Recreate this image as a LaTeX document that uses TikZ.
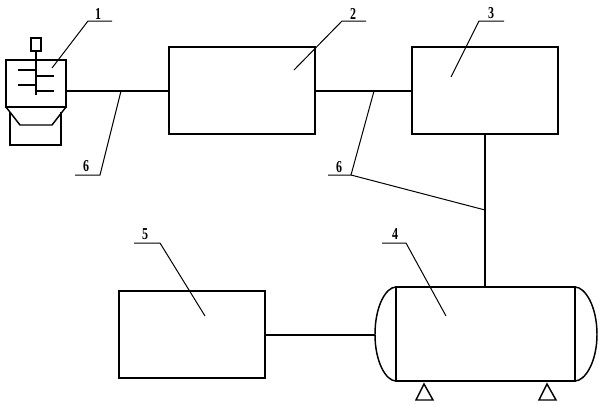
\documentclass[tikz,border=0pt]{standalone}
\usepackage{graphicx}
\usepackage{fontspec}
\setmainfont{Liberation Serif}
\tikzset{
  thick line/.style={line width=1.5pt,line join=miter},
  box/.style={draw,line width=1.5pt,inner sep=0pt,outer sep=0pt,anchor=north west},
  thin part/.style={line width=1.1pt},
  leader/.style={line width=0.75pt},
  num/.style={inner sep=0pt,font=\fontsize{12.5}{12.5}\selectfont\bfseries},
}
\newcommand{\nm}[1]{\scalebox{0.72}[1]{#1}}
\begin{document}
\begin{tikzpicture}[x=0.75pt,y=-0.75pt]
\useasboundingbox[fill=white] (0,0) rectangle (600,404);
% main boxes
\node[box,minimum width=109.5pt,minimum height=65.25pt] (b2) at (169,47) {};
\node[box,minimum width=109.5pt,minimum height=65.25pt] (b3) at (412,47) {};
\node[box,minimum width=109.5pt,minimum height=65.25pt] (b5) at (119,291) {};
\node[box,minimum width=134.25pt,minimum height=70.5pt] (tank) at (396,287) {};
\node[box,minimum width=45pt,minimum height=35.25pt] (mix) at (6,60) {};
\node[box,minimum width=7.5pt,minimum height=9.5pt] (knob) at (31,38) {};
% tank heads
\coordinate (hl) at (375,334.5);
\coordinate (hr) at (597,334.5);
\draw[thin part] (tank.north west) .. controls (386,287) and (375,306) .. (hl) .. controls (375,362) and (386,381) .. (tank.south west);
\draw[thin part] (tank.north east) .. controls (585,287) and (597,306) .. (hr) .. controls (597,362) and (585,381) .. (tank.south east);
% supports
\coordinate (s1) at (424,384); \coordinate (s1a) at (416,400); \coordinate (s1b) at (433,400);
\coordinate (s2) at (547,384); \coordinate (s2a) at (539,400); \coordinate (s2b) at (556,400);
\draw[thin part] (s1) -- (s1b) -- (s1a) -- cycle;
\draw[thin part] (s2) -- (s2b) -- (s2a) -- cycle;
% mixer internals
\coordinate (sh) at (36,95);
\draw[thin part] (knob.south) -- (sh);
\coordinate (p1) at (18,70); \coordinate (p1e) at (36,70);
\coordinate (p2) at (18,85); \coordinate (p2e) at (36,85);
\coordinate (p3) at (36,76); \coordinate (p3e) at (54,76);
\coordinate (p4) at (36,91); \coordinate (p4e) at (54,91);
\draw[thin part] (p1) -- (p1e) (p2) -- (p2e) (p3) -- (p3e) (p4) -- (p4e);
% hopper and bin
\coordinate (h1) at (20,125); \coordinate (h2) at (52,125);
\draw[thin part] (mix.south west) -- (h1) -- (h2) -- (mix.south east);
\coordinate (c1) at (10,112); \coordinate (c2) at (10,145); \coordinate (c3) at (61,145); \coordinate (c4) at (61,112);
\draw[thin part] (c1) -- (c2) -- (c3) -- (c4);
% pipes
\coordinate (m1) at (66,90.7); \coordinate (b2l) at (169,90.7);
\draw[thick line] (m1) -- (b2l);
\draw[thick line] (b2.east) -- (b3.west);
\draw[thick line] (b3.south) -- (b3.south |- tank.north);
\draw[thick line] (b5.east) -- (hl);
% leaders
\coordinate (l1a) at (52,68); \coordinate (l1b) at (88,21); \coordinate (l1c) at (112,21);
\draw[leader] (l1a) -- (l1b) -- (l1c);
\coordinate (l2a) at (294,70); \coordinate (l2b) at (342,21); \coordinate (l2c) at (366,21);
\draw[leader] (l2a) -- (l2b) -- (l2c);
\coordinate (l3a) at (451,77); \coordinate (l3b) at (479,21); \coordinate (l3c) at (504,21);
\draw[leader] (l3a) -- (l3b) -- (l3c);
\coordinate (l4a) at (446,316); \coordinate (l4b) at (406,243); \coordinate (l4c) at (382,243);
\draw[leader] (l4a) -- (l4b) -- (l4c);
\coordinate (l5a) at (205,316); \coordinate (l5b) at (160,243); \coordinate (l5c) at (134,243);
\draw[leader] (l5a) -- (l5b) -- (l5c);
\coordinate (l6a) at (121,91); \coordinate (l6b) at (100,175); \coordinate (l6c) at (75,175);
\draw[leader] (l6a) -- (l6b) -- (l6c);
\coordinate (l7a) at (374,91); \coordinate (l7b) at (351,175); \coordinate (l7c) at (328,175); \coordinate (l7d) at (485,210);
\draw[leader] (l7a) -- (l7b) -- (l7c);
\draw[leader] (l7b) -- (l7d);
% labels
\node[num] (t1) at (98,13.5) {\nm{1}};
\node[num] (t2) at (353,13.5) {\nm{2}};
\node[num] (t3) at (491,13.5) {\nm{3}};
\node[num] (t4) at (395,234.5) {\nm{4}};
\node[num] (t5) at (145,234.5) {\nm{5}};
\node[num] (t6) at (86,166.5) {\nm{6}};
\node[num] (t7) at (339,167.5) {\nm{6}};
\end{tikzpicture}
\end{document}
